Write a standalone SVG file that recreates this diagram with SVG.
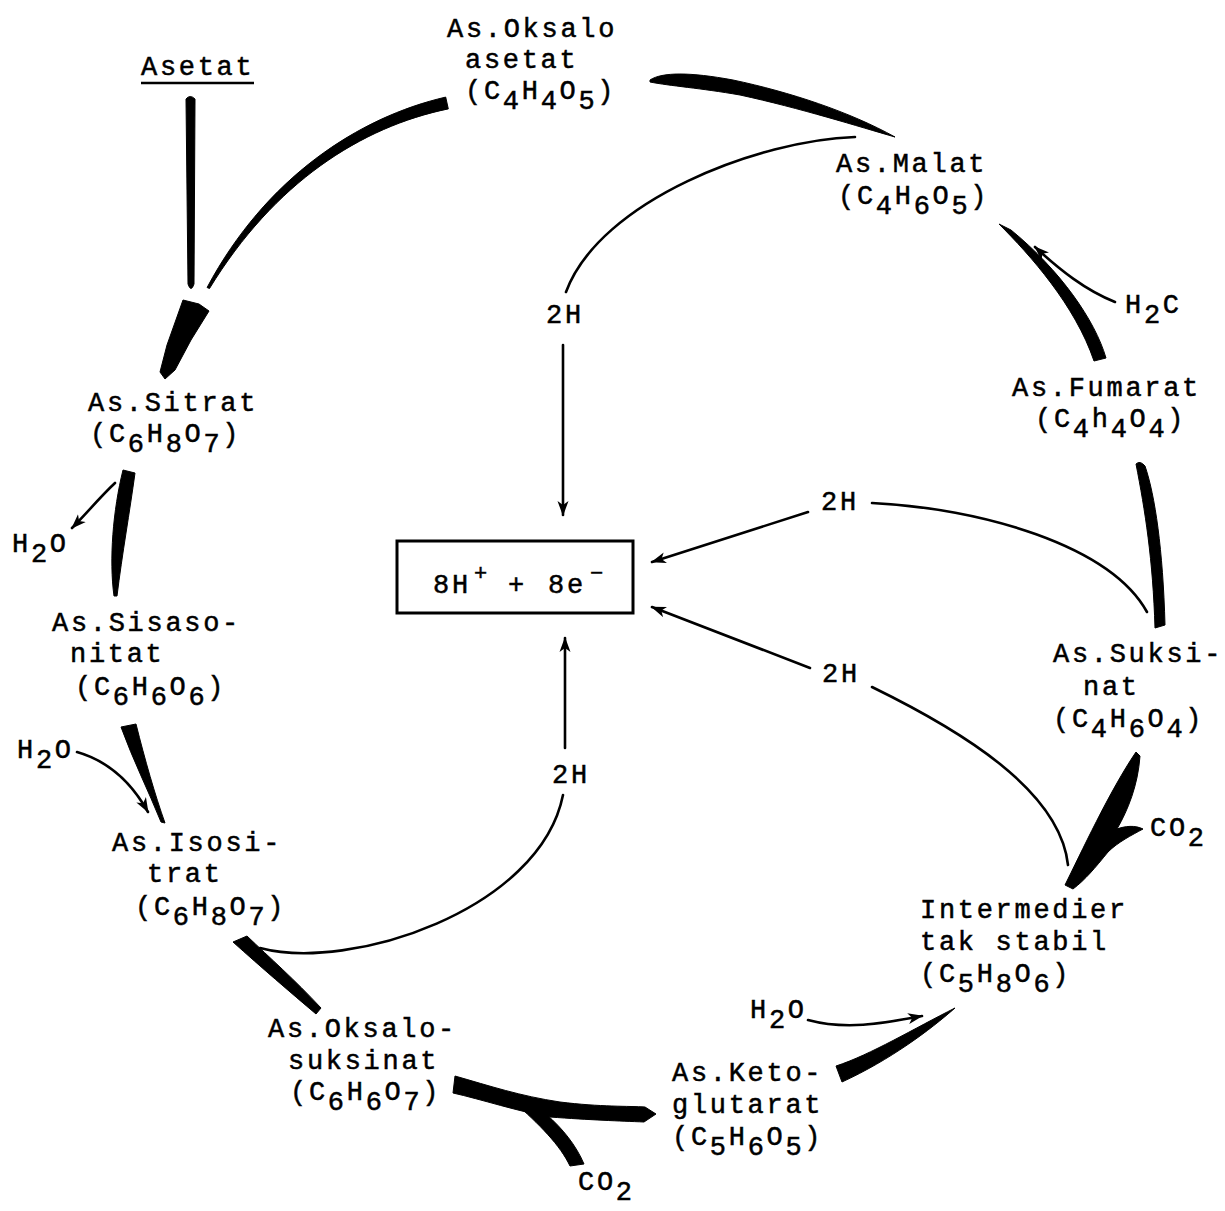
<svg xmlns="http://www.w3.org/2000/svg" width="1225" height="1211" viewBox="0 0 1225 1211">
<style>
  .t { font-family: "Liberation Mono", "DejaVu Sans Mono", monospace; font-size: 27px; letter-spacing: 2.7px; fill: #000; stroke: #000; stroke-width: 0.5px; }
  .thin { fill: none; stroke: #000; stroke-width: 2.6; stroke-linecap: round; }
  .arr { marker-end: url(#ah); }
  .thick { fill: #000; stroke: #000; stroke-width: 1; stroke-linejoin: round; }
</style>
<defs>
  <marker id="ah" markerUnits="userSpaceOnUse" markerWidth="16" markerHeight="12" refX="14" refY="6" orient="auto">
    <path d="M0,0.5 L15,6 L0,11.5 L4,6 Z" fill="#000"/>
  </marker>
</defs>
<rect width="1225" height="1211" fill="#fff"/>

<g id="connectors">
  <!-- Asetat vertical -->
  <path class="thick" d="M186,99 Q190,94 195,99 L194,284 Q191,293 188,284 Z"/>
  <!-- Oksaloasetat to Sitrat -->
  <path class="thick" d="M445.7,97.1 C358.9,117.1 265.7,177.5 207.1,287.5 L209.5,288.5 C274.3,182.5 361.1,126.9 448.3,108.9 Z"/>
  <!-- wedge into Sitrat -->
  <path class="thick" d="M183,300 L199,304 L209,311 L191,340 L175,370 L165,379 L160,372 L167,345 Z"/>
  <!-- Sitrat to Sisasonitat -->
  <path class="thick" d="M123,470 L135,473 C130,510 122,555 117,596 L114,596 C109,560 113,510 123,470 Z"/>
  <path class="thin arr" d="M115,483 C100,497 86,514 72,528"/>
  <!-- Sisasonitat to Isositrat -->
  <path class="thick" d="M121,727 L136,724 C145,760 155,795 165,823 L161,822 C148,790 133,760 121,727 Z"/>
  <path class="thin arr" d="M77,752 C105,760 130,780 148,812"/>
  <!-- Isositrat to Oksalosuksinat -->
  <path class="thick" d="M233,942 L247,936 C270,958 295,980 321,1008 L316,1014 C290,992 262,968 233,942 Z"/>
  <!-- Oksalosuksinat to Ketoglutarat with CO2 -->
  <path class="thick" d="M455,1076 C490,1086 520,1096 560,1102 C600,1107 630,1106 645,1107 L656,1114 L644,1122 C620,1121 590,1120 550,1117 C520,1112 480,1099 453,1093 Z"/>
  <path class="thick" d="M513,1101 C540,1125 560,1145 570,1166 L584,1164 C576,1145 562,1128 547,1115 Z"/>
  <!-- Ketoglutarat to Intermedier -->
  <path class="thick" d="M836,1066 C870,1055 915,1028 955,1008 C930,1030 890,1060 842,1082 Z"/>
  <path class="thin arr" d="M808,1020 C845,1030 880,1024 922,1016"/>
  <!-- Suksinat to Intermedier with CO2 -->
  <path class="thick" d="M1136,752 L1140,756 C1138,785 1128,810 1117,829 C1125,826 1135,825 1143,829 C1132,835 1118,842 1108,852 C1095,868 1085,880 1073,889 L1065,885 C1080,855 1110,790 1136,752 Z"/>
  <!-- Fumarat to Suksinat -->
  <path class="thick" d="M1136,464 Q1140,460 1145,466 C1155,495 1163,550 1165,625 L1155,628 C1153,560 1145,510 1136,464 Z"/>
  <!-- Fumarat to Malat -->
  <path class="thick" d="M999,224 C1030,255 1075,305 1094,361 L1106,358 C1095,320 1060,270 1011,230 Z"/>
  <path class="thin arr" d="M1115,302 C1085,290 1060,270 1035,247"/>
  <!-- Malat to Oksaloasetat -->
  <path class="thick" d="M650,80 C662,72 690,72 733,80 C790,92 850,112 895,137 C860,127 800,108 740,95 C700,88 670,86 650,82 Z"/>
  <!-- 2H curves -->
  <path class="thin" d="M855,137 C760,140 600,200 566,292"/>
  <path class="thin" d="M872,503 C980,508 1110,545 1147,612"/>
  <path class="thin" d="M872,687 C960,730 1060,790 1068,865"/>
  <path class="thin" d="M260,948 C350,972 540,910 563,795"/>
  <!-- arrows to box -->
  <path class="thin arr" d="M563,345 L563,515"/>
  <path class="thin arr" d="M808,512 L652,562"/>
  <path class="thin arr" d="M810,668 L652,607"/>
  <path class="thin arr" d="M565,748 L565,638"/>
</g>

<g id="asetat">
  <text class="t" x="141" y="75">Asetat</text>
  <line x1="141" y1="83" x2="254" y2="83" stroke="#000" stroke-width="2.5"/>
</g>
<g id="oksaloasetat">
  <text class="t" x="447" y="37">As.Oksalo</text>
  <text class="t" x="465" y="68">asetat</text>
  <text class="t" x="465" y="99">(C<tspan dy="10">4</tspan><tspan dy="-10">H</tspan><tspan dy="10">4</tspan><tspan dy="-10">O</tspan><tspan dy="10">5</tspan><tspan dy="-10">)</tspan></text>
</g>
<g id="malat">
  <text class="t" x="836" y="172">As.Malat</text>
  <text class="t" x="838" y="204">(C<tspan dy="10">4</tspan><tspan dy="-10">H</tspan><tspan dy="10">6</tspan><tspan dy="-10">O</tspan><tspan dy="10">5</tspan><tspan dy="-10">)</tspan></text>
</g>
<g id="h2o-malat">
  <text class="t" x="1125" y="313">H<tspan dy="10">2</tspan><tspan dy="-10">C</tspan></text>
</g>
<g id="fumarat">
  <text class="t" x="1012" y="396">As.Fumarat</text>
  <text class="t" x="1035" y="427">(C<tspan dy="10">4</tspan><tspan dy="-10">h</tspan><tspan dy="10">4</tspan><tspan dy="-10">O</tspan><tspan dy="10">4</tspan><tspan dy="-10">)</tspan></text>
</g>
<g id="suksinat">
  <text class="t" x="1053" y="662">As.Suksi-</text>
  <text class="t" x="1083" y="695">nat</text>
  <text class="t" x="1053" y="727">(C<tspan dy="10">4</tspan><tspan dy="-10">H</tspan><tspan dy="10">6</tspan><tspan dy="-10">O</tspan><tspan dy="10">4</tspan><tspan dy="-10">)</tspan></text>
</g>
<g id="co2-suksinat">
  <text class="t" x="1150" y="836">CO<tspan dy="10">2</tspan></text>
</g>
<g id="intermedier">
  <text class="t" x="920" y="918">Intermedier</text>
  <text class="t" x="920" y="950">tak stabil</text>
  <text class="t" x="920" y="982">(C<tspan dy="10">5</tspan><tspan dy="-10">H</tspan><tspan dy="10">8</tspan><tspan dy="-10">O</tspan><tspan dy="10">6</tspan><tspan dy="-10">)</tspan></text>
</g>
<g id="h2o-keto">
  <text class="t" x="750" y="1018">H<tspan dy="10">2</tspan><tspan dy="-10">O</tspan></text>
</g>
<g id="ketoglutarat">
  <text class="t" x="672" y="1081">As.Keto-</text>
  <text class="t" x="672" y="1113">glutarat</text>
  <text class="t" x="672" y="1145">(C<tspan dy="10">5</tspan><tspan dy="-10">H</tspan><tspan dy="10">6</tspan><tspan dy="-10">O</tspan><tspan dy="10">5</tspan><tspan dy="-10">)</tspan></text>
</g>
<g id="co2-bottom">
  <text class="t" x="578" y="1190">CO<tspan dy="10">2</tspan></text>
</g>
<g id="oksalosuksinat">
  <text class="t" x="268" y="1037">As.Oksalo-</text>
  <text class="t" x="288" y="1069">suksinat</text>
  <text class="t" x="290" y="1100">(C<tspan dy="10">6</tspan><tspan dy="-10">H</tspan><tspan dy="10">6</tspan><tspan dy="-10">O</tspan><tspan dy="10">7</tspan><tspan dy="-10">)</tspan></text>
</g>
<g id="isositrat">
  <text class="t" x="112" y="851">As.Isosi-</text>
  <text class="t" x="147" y="882">trat</text>
  <text class="t" x="135" y="915">(C<tspan dy="10">6</tspan><tspan dy="-10">H</tspan><tspan dy="10">8</tspan><tspan dy="-10">O</tspan><tspan dy="10">7</tspan><tspan dy="-10">)</tspan></text>
</g>
<g id="h2o-isositrat">
  <text class="t" x="17" y="758">H<tspan dy="10">2</tspan><tspan dy="-10">O</tspan></text>
</g>
<g id="sisasonitat">
  <text class="t" x="52" y="631">As.Sisaso-</text>
  <text class="t" x="70" y="662">nitat</text>
  <text class="t" x="75" y="695">(C<tspan dy="10">6</tspan><tspan dy="-10">H</tspan><tspan dy="10">6</tspan><tspan dy="-10">O</tspan><tspan dy="10">6</tspan><tspan dy="-10">)</tspan></text>
</g>
<g id="h2o-sitrat">
  <text class="t" x="12" y="552">H<tspan dy="10">2</tspan><tspan dy="-10">O</tspan></text>
</g>
<g id="sitrat">
  <text class="t" x="88" y="411">As.Sitrat</text>
  <text class="t" x="90" y="442">(C<tspan dy="10">6</tspan><tspan dy="-10">H</tspan><tspan dy="10">8</tspan><tspan dy="-10">O</tspan><tspan dy="10">7</tspan><tspan dy="-10">)</tspan></text>
</g>
<g id="h2-top"><text class="t" x="546" y="323">2H</text></g>
<g id="h2-right-upper"><text class="t" x="821" y="510">2H</text></g>
<g id="h2-right-lower"><text class="t" x="822" y="682">2H</text></g>
<g id="h2-bottom"><text class="t" x="552" y="783">2H</text></g>
<g id="pool">
  <rect x="397" y="541" width="236" height="72" fill="none" stroke="#000" stroke-width="3"/>
  <text class="t" y="593"><tspan x="433">8H</tspan><tspan x="474" dy="-13" font-size="22">+</tspan><tspan x="508" dy="13">+</tspan><tspan x="548">8e</tspan><tspan x="590" dy="-13" font-size="22">−</tspan></text>
</g>
</svg>
